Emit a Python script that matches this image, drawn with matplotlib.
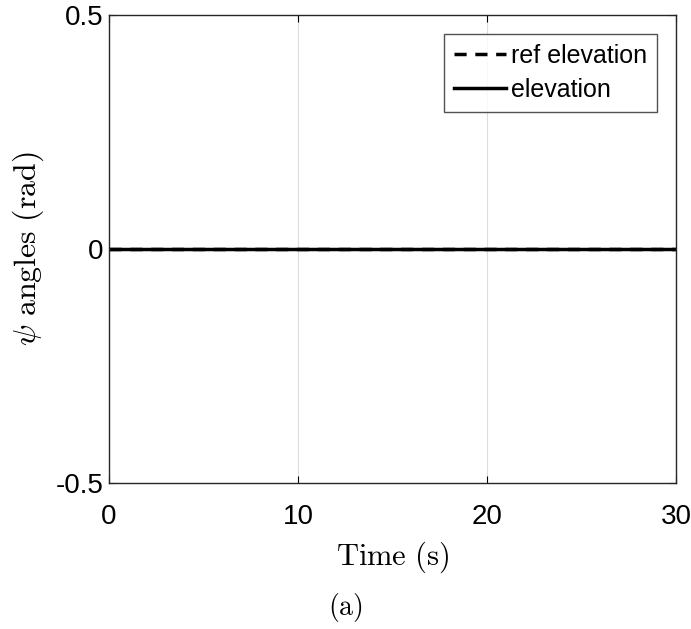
import matplotlib.pyplot as plt

plt.rcParams['font.family'] = ['Liberation Sans', 'DejaVu Sans']
plt.rcParams['mathtext.fontset'] = 'cm'

# time samples and angle traces (rad)
t = [0, 5, 10, 15, 20, 25, 30]
ref_elevation = [0, 0, 0, 0, 0, 0, 0]
elevation = [0, 0, 0, 0, 0, 0, 0]

xticks = [0, 10, 20, 30]
yticks = [-0.5, 0, 0.5]
yticklabels = ['-0.5', '0', '0.5']

fig = plt.figure(figsize=(6.91, 6.29), dpi=100)
ax = fig.add_axes([109 / 691, 1 - 483 / 629, 567 / 691, 468 / 629])

ax.plot(t, elevation, color='black', linewidth=2.5, label='elevation')
ax.plot(t, ref_elevation, color='black', linewidth=2.5, linestyle=(0, (3.5, 2.5)), label='ref elevation')

ax.set_xlim(0, 30)
ax.set_ylim(-0.5, 0.5)
ax.set_xticks(xticks)
ax.set_yticks(yticks)
ax.set_yticklabels(yticklabels)
ax.tick_params(direction='in', top=True, right=True, labelsize=20, length=5, width=0.8)
ax.tick_params(axis='x', pad=15)
ax.tick_params(axis='y', pad=4)
ax.grid(axis='x', color='#dddddd', linewidth=0.8)
for s in ax.spines.values():
    s.set_linewidth(1.0)
    s.set_color('#262626')

ax.set_xlabel(r'$\mathrm{Time\ (s)}$', fontsize=22, labelpad=7)
ax.set_ylabel(r'$\psi\ \mathrm{angles\ (rad)}$', fontsize=23, labelpad=7)

handles, labels = ax.get_legend_handles_labels()
leg = ax.legend(handles[::-1], labels[::-1], loc='upper right', fontsize=18,
                frameon=True, fancybox=False, edgecolor='#262626',
                handlelength=2.1, handletextpad=0.2, borderpad=0.4,
                labelspacing=0.4, borderaxespad=0.75)
leg.get_frame().set_linewidth(1.0)

fig.text(0.5, 1 - 608 / 629, r'$\mathrm{(a)}$', ha='center', va='center', fontsize=20)

fig.savefig('out.png', dpi=100)
